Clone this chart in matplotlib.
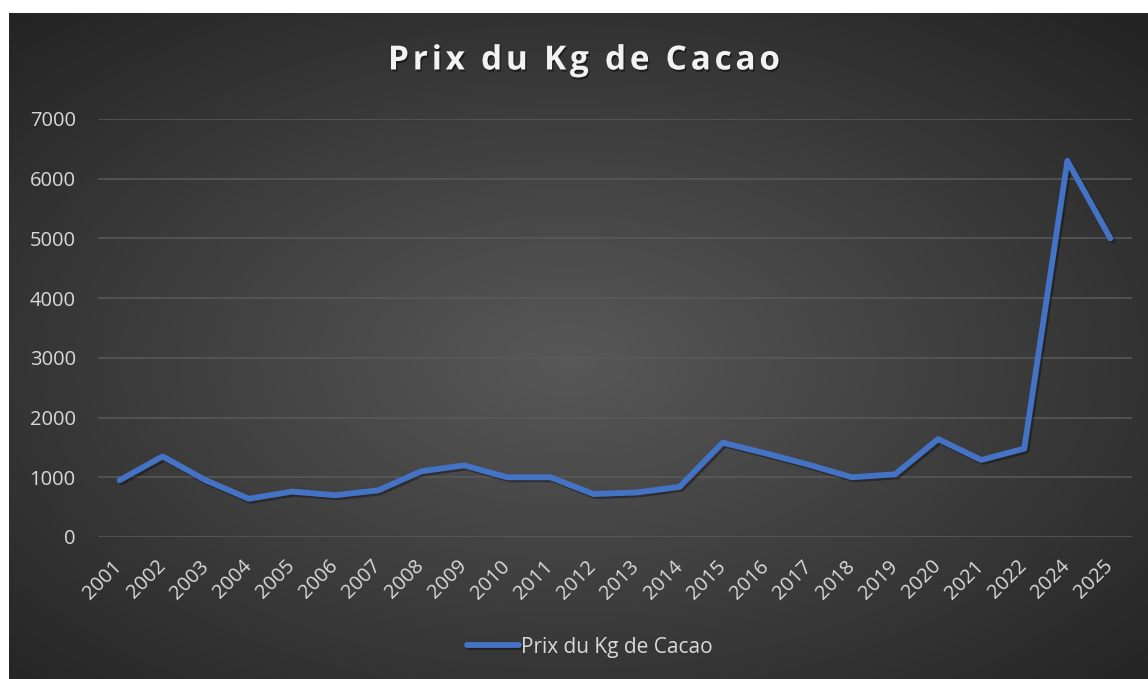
import numpy as np
import matplotlib
matplotlib.use("Agg")
import matplotlib.pyplot as plt
import matplotlib.patheffects as pe
from matplotlib.font_manager import FontProperties

years = ["2001", "2002", "2003", "2004", "2005", "2006", "2007", "2008", "2009", "2010",
         "2011", "2012", "2013", "2014", "2015", "2016", "2017", "2018", "2019", "2020",
         "2021", "2022", "2024", "2025"]
prix = [950, 1350, 950, 640, 760, 700, 780, 1100, 1200, 1000,
        1000, 720, 745, 840, 1580, 1400, 1210, 1000, 1050, 1640,
        1290, 1480, 6300, 5000]
yticks = [0, 1000, 2000, 3000, 4000, 5000, 6000, 7000]
titre = "Prix du Kg de Cacao"

FONT = "Open Sans"
W, H = 1148, 679
fig = plt.figure(figsize=(W / 100, H / 100), dpi=100)
fig.patch.set_facecolor("white")

# background with radial gradient
bx0, by0 = 9, 13
bg = fig.add_axes([bx0 / W, 0, 1 - bx0 / W, 1 - by0 / H])
bg.set_axis_off()
ny, nx = 300, 500
yy, xx = np.mgrid[0:ny, 0:nx]
cx, cy = nx * 0.49, ny * 0.52
r = np.sqrt(((xx - cx) / (nx * 0.5)) ** 2 + ((yy - cy) / (ny * 0.5)) ** 2) / np.sqrt(2)
r = np.clip(r, 0, 1)
c_in = np.array([0x58, 0x58, 0x58]) / 255
c_out = np.array([0x24, 0x24, 0x24]) / 255
img = c_in[None, None, :] * (1 - r[..., None]) + c_out[None, None, :] * r[..., None]
bg.imshow(img, aspect="auto", extent=[0, 1, 0, 1], interpolation="bilinear")
bg.set_xlim(0, 1)
bg.set_ylim(0, 1)

ax = fig.add_axes([98 / W, 1 - 537 / H, (1132 - 98) / W, (537 - 119) / H])
ax.patch.set_alpha(0)
x = np.arange(len(years))
line, = ax.plot(x, prix, color="#4472C4", lw=4.2, solid_capstyle="round",
                solid_joinstyle="round", label=titre,
                path_effects=[pe.SimpleLineShadow(offset=(1.5, -1.5), shadow_color="black", alpha=0.35),
                              pe.Normal()])
ax.set_xlim(-0.5, len(years) - 0.5)
ax.set_ylim(0, 7000)
ax.set_yticks(yticks)
ax.set_yticklabels([str(v) for v in yticks])
ax.set_xticks(x)
ax.set_xticklabels(years, rotation=45, ha="right", va="center", rotation_mode="anchor")
for s in ax.spines.values():
    s.set_visible(False)
ax.grid(axis="y", color="#5a5a5a", lw=1.1)
ax.set_axisbelow(True)
ax.tick_params(axis="both", length=0, colors="#d9d9d9", labelsize=14.5)
ax.tick_params(axis="y", pad=16)
ax.tick_params(axis="x", pad=19)
for t in ax.get_xticklabels() + ax.get_yticklabels():
    t.set_fontfamily(FONT)
    t.set_color("#d9d9d9")

# letter-spaced title
tprop = FontProperties(family=FONT, weight="bold", size=24)
renderer = fig.canvas.get_renderer()
def tw(s):
    if not s:
        return 0.0
    w, h, d = renderer.get_text_width_height_descent(s.replace(" ", "\u00a0"), tprop, ismath=False)
    return w
target_w = 392.0
natural = tw(titre)
gap = (target_w - natural) / (len(titre) - 1)
left = 584 - target_w / 2
base_y = 1 - 69.5 / H
for i, ch in enumerate(titre):
    if ch == " ":
        continue
    xpix = left + tw(titre[:i]) + i * gap
    fig.text(xpix / W, base_y, ch, ha="left", va="baseline", color="#f2f2f2",
             fontproperties=tprop,
             path_effects=[pe.SimplePatchShadow(offset=(1, -1.5), shadow_rgbFace="black", alpha=0.45),
                           pe.Normal()])

leg = fig.legend(handles=[line], labels=[titre], loc="center", bbox_to_anchor=(590 / W, 1 - 647 / H),
                 frameon=False, handlelength=2.5, handletextpad=0.1,
                 prop={"family": FONT, "size": 15})
for t in leg.get_texts():
    t.set_color("#d9d9d9")

fig.savefig("out.png", dpi=100, facecolor=fig.get_facecolor())
